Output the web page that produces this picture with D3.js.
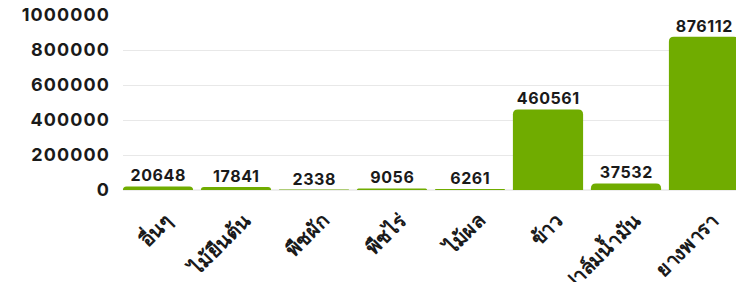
<!DOCTYPE html>
<html lang="th">
<head>
    <meta charset="UTF-8">
    <title>Bar chart</title>
    <script src="https://d3js.org/d3.v7.min.js"></script>
    <style>
        body {
            margin: 0;
            background: #fff;
        }
        svg {
            display: block;
            font-family: Inter, "Noto Sans", sans-serif;
        }
    </style>
</head>
<body>
    <svg id="chart" width="736" height="282"></svg>
    <script>
        const categories = ["อื่นๆ", "ไม้ยืนต้น", "พืชผัก", "พืชไร่", "ไม้ผล", "ข้าว", "ปาล์มน้ำมัน", "ยางพารา"];
        const values = [20648, 17841, 2338, 9056, 6261, 460561, 37532, 876112];
        const yTicks = [0, 200000, 400000, 600000, 800000, 1000000];

        const svg = d3.select("#chart");

        const x = d3.scaleBand()
            .domain(categories)
            .range([119, 743])
            .paddingInner(0.1)
            .paddingOuter(0.05);

        const y = d3.scaleLinear()
            .domain([0, 1000000])
            .range([190, 15]);

        // gridlines (no line at the top value)
        svg.append("g")
            .selectAll("line")
            .data(yTicks.filter(d => d > 0 && d < 1000000))
            .join("line")
            .attr("x1", 123)
            .attr("x2", 736)
            .attr("y1", d => Math.round(y(d)) + 0.5)
            .attr("y2", d => Math.round(y(d)) + 0.5)
            .attr("stroke", "#e8e8e8")
            .attr("stroke-width", 1);

        // y tick labels
        svg.append("g")
            .selectAll("text")
            .data(yTicks)
            .join("text")
            .attr("x", 110)
            .attr("y", d => y(d))
            .attr("dy", "0.35em")
            .attr("text-anchor", "end")
            .attr("font-size", 18)
            .attr("font-weight", 700)
            .attr("letter-spacing", 1.1)
            .attr("fill", "#1a1a1a")
            .text(d => d);

        // baseline
        svg.append("line")
            .attr("x1", 123)
            .attr("x2", 736)
            .attr("y1", 190)
            .attr("y2", 190)
            .attr("stroke", "#dcdcdc")
            .attr("stroke-width", 1);

        // bars with rounded tops
        function barPath(x0, w, top, bottom) {
            const h = bottom - top;
            const r = Math.min(5, w / 2, Math.max(h, 0.6));
            return `M${x0},${bottom}V${top + r}Q${x0},${top} ${x0 + r},${top}` +
                   `H${x0 + w - r}Q${x0 + w},${top} ${x0 + w},${top + r}V${bottom}Z`;
        }

        const data = categories.map((c, i) => ({ c, v: values[i] }));

        svg.append("g")
            .selectAll("path")
            .data(data)
            .join("path")
            .attr("d", d => barPath(x(d.c), x.bandwidth(), Math.min(y(d.v), 189.4), 190))
            .attr("fill", "#70ac00");

        // value labels
        svg.append("g")
            .selectAll("text")
            .data(data)
            .join("text")
            .attr("x", d => x(d.c) + x.bandwidth() / 2 + 0.3)
            .attr("y", d => y(d.v) - 5)
            .attr("text-anchor", "middle")
            .attr("font-size", 16)
            .attr("font-weight", 700)
            .attr("letter-spacing", 0.6)
            .attr("fill", "#1a1a1a")
            .text(d => d.v);

        // rotated category labels
        svg.append("g")
            .selectAll("text")
            .data(categories)
            .join("text")
            .attr("transform", d => `translate(${x(d) + x.bandwidth() / 2 + 16},222) rotate(-45)`)
            .attr("text-anchor", "end")
            .attr("font-size", 20)
            .attr("font-weight", 700)
            .attr("fill", "#1a1a1a")
            .text(d => d);
    </script>
</body>
</html>
